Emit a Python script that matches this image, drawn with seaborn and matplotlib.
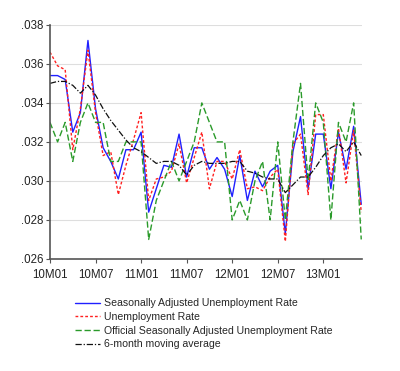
import numpy as np
import pandas as pd
import matplotlib
matplotlib.use("Agg")
import matplotlib.pyplot as plt
import seaborn as sns

months = [f"{y:02d}M{m:02d}" for y in range(10, 14) for m in range(1, 13)][:42]
tick_labels = ["10M01", "10M07", "11M01", "11M07", "12M01", "12M07", "13M01"]
y_ticks = [0.026, 0.028, 0.030, 0.032, 0.034, 0.036, 0.038]

sa_rate = [.0354, .0354, .0352, .0325, .0335, .0372, .0337, .0317, .0310, .0301,
           .0316, .0316, .0325, .0284, .0296, .0308, .0307, .0324, .0302, .0317,
           .0317, .0306, .0312, .0306, .0292, .0313, .0290, .0305, .0297, .0305,
           .0308, .0273, .0315, .0333, .0296, .0324, .0324, .0296, .0325, .0306,
           .0328, .0288]
unadj_rate = [.0366, .0359, .0357, .0316, .0337, .0367, .0335, .0313, .0315, .0293,
              .0308, .0321, .0335, .0290, .0301, .0302, .0305, .0319, .0299, .0312,
              .0325, .0296, .0310, .0310, .0301, .0316, .0296, .0297, .0295, .0302,
              .0306, .0269, .0319, .0324, .0293, .0334, .0334, .0300, .0327, .0299,
              .0326, .0284]
official_sa = [.033, .032, .033, .031, .033, .034, .033, .033, .031, .031,
               .032, .032, .032, .027, .029, .030, .031, .030, .031, .032,
               .034, .033, .032, .032, .028, .029, .028, .030, .031, .028,
               .032, .028, .032, .035, .030, .034, .033, .028, .033, .032,
               .034, .027]
moving_avg = [.0350, .0351, .0351, .0349, .0345, .0349, .0344, .0337, .0331, .0326,
              .0321, .0317, .0315, .0312, .0309, .0310, .0310, .0308, .0303, .0308,
              .0310, .0309, .0309, .0309, .0310, .0310, .0305, .0304, .0302, .0301,
              .0301, .0294, .0298, .0302, .0302, .0307, .0313, .0317, .0319, .0315,
              .0320, .0313]

labels = ["Seasonally Adjusted Unemployment Rate", "Unemployment Rate",
          "Official Seasonally Adjusted Unemployment Rate", "6-month moving average"]

sns.set_style("white")
plt.rcParams['font.family'] = ['Liberation Sans', 'DejaVu Sans']

fig = plt.figure(figsize=(4.0, 3.71), dpi=100)
ax = fig.add_axes([0.125, 0.302, 0.78, 0.631])

idx = np.arange(len(months))
series = [
    (sa_rate, "#2020ff", "-", 1.0),
    (unadj_rate, "#ff2020", (0, (2, 1.5)), 1.0),
    (official_sa, "#2a9a2a", (0, (4.5, 2)), 1.0),
    (moving_avg, "#111111", (0, (5, 1.5, 1, 1.5)), 0.9),
]
for (vals, col, ls, lw), lab in zip(series, labels):
    sns.lineplot(x=idx, y=vals, ax=ax, color=col, linestyle=ls, linewidth=lw, label=lab)

ax.set_xlim(0, 41.1)
ax.set_ylim(0.026, 0.038)
ax.set_xticks([months.index(t) for t in tick_labels])
ax.set_xticklabels(tick_labels, fontsize=8.3)
ax.set_yticks(y_ticks)
ax.set_yticklabels([f"{v:.3f}".lstrip("0") for v in y_ticks], fontsize=8.3)
ax.yaxis.grid(True, color="#dedede", linewidth=0.8)
ax.xaxis.grid(False)
for s in ["top", "right"]:
    ax.spines[s].set_visible(False)
for s in ["left", "bottom"]:
    ax.spines[s].set_color("#555555")
    ax.spines[s].set_linewidth(1.2)
ax.tick_params(axis="both", direction="out", length=3, width=0.8, color="#555555",
               labelcolor="#222222", left=True, bottom=True)
ax.tick_params(axis="x", pad=4)
ax.tick_params(axis="y", pad=2)
ax.set_xlabel("")
ax.set_ylabel("")

handles, labs = ax.get_legend_handles_labels()
ax.get_legend().remove()
fig.legend(handles, labs, loc="upper left", bbox_to_anchor=(0.1875, 0.196),
           frameon=False, fontsize=7.6, handlelength=2.4, handletextpad=0.35,
           labelspacing=0.35, borderaxespad=0, borderpad=0)

fig.savefig("out.png", dpi=100)
